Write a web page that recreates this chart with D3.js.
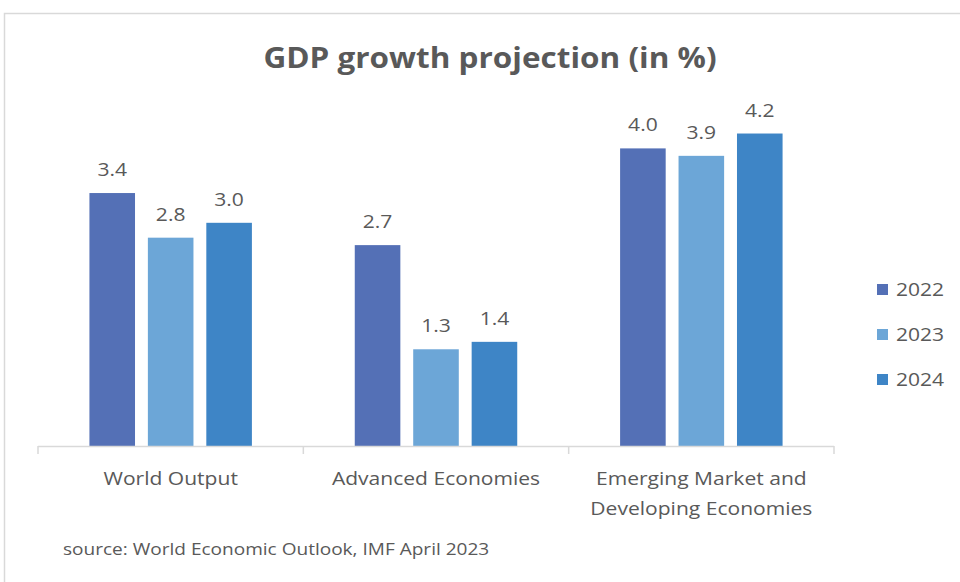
<!DOCTYPE html>
<html>
<head>
<meta charset="utf-8">
<script src="https://cdn.jsdelivr.net/npm/d3@7"></script>
<style>
  body { margin: 0; background: #fff; }
  svg text { font-family: "Open Sans", "Noto Sans", sans-serif; fill: #595959; }
</style>
</head>
<body>
<div id="chart"></div>
<script>
// data
var categories = [['World Output'], ['Advanced Economies'], ['Emerging Market and', 'Developing Economies']];
var years = ['2022', '2023', '2024'];
var values2022 = [3.4, 2.7, 4.0];
var values2023 = [2.8, 1.3, 3.9];
var values2024 = [3.0, 1.4, 4.2];
var colors = ['#5470b6', '#6ca6d7', '#3e85c6'];

var width = 960, height = 582;
var series = [values2022, values2023, values2024];
var stretch = 1.17; // the original text is rendered wider than Open Sans

function place(x, y, k){
    return 'translate(' + x + ',' + y + ') scale(' + (k || stretch) + ',1)';
}

var svg = d3.select('#chart').append('svg')
    .attr('width', width)
    .attr('height', height);

// chart frame (runs off the right and bottom edge)
svg.append('rect')
    .attr('x', 4.5).attr('y', 13.5)
    .attr('width', 1000).attr('height', 1000)
    .attr('fill', 'none')
    .attr('stroke', '#d9d9d9')
    .attr('stroke-width', 1.5);

svg.append('text')
    .attr('transform', place(490, 68, 1.125))
    .attr('text-anchor', 'middle')
    .style('font-size', '28px')
    .style('font-weight', 'bold')
    .text('GDP growth projection (in %)');

var plot = {left: 38, right: 834, top: 74, bottom: 446};

var x0 = d3.scaleBand()
    .domain(d3.range(categories.length))
    .range([plot.left, plot.right])
    .paddingInner(0).paddingOuter(0);

var x1 = d3.scaleBand()
    .domain(d3.range(years.length))
    .range([0, x0.bandwidth()])
    .paddingInner(0.22)
    .paddingOuter(0.88);

var y = d3.scaleLinear().domain([0, 5]).range([plot.bottom, plot.top]);

var groups = svg.selectAll('g.cat').data(categories)
    .enter()
        .append('g')
        .attr('class', 'cat')
        .attr('transform', function(d, i){return 'translate(' + x0(i) + ',0)'});

groups.each(function(c, ci){
    var g = d3.select(this);
    var rows = years.map(function(yr, si){return {s: si, v: series[si][ci]}});
    g.selectAll('rect').data(rows)
        .enter()
            .append('rect')
            .attr('x', function(d){return x1(d.s)})
            .attr('y', function(d){return y(d.v)})
            .attr('width', x1.bandwidth())
            .attr('height', function(d){return plot.bottom - y(d.v)})
            .attr('fill', function(d){return colors[d.s]});
    g.selectAll('text.val').data(rows)
        .enter()
            .append('text')
            .attr('class', 'val')
            .attr('transform', function(d){
                return place(x1(d.s) + x1.bandwidth() / 2, y(d.v) - 17)})
            .attr('text-anchor', 'middle')
            .style('font-size', '18px')
            .text(function(d){return d.v.toFixed(1)});
});

// category axis
var axis = svg.append('g');
axis.append('line')
    .attr('x1', plot.left).attr('x2', plot.right)
    .attr('y1', plot.bottom + 0.5).attr('y2', plot.bottom + 0.5)
    .attr('stroke', '#d9d9d9').attr('stroke-width', 1.5);
axis.selectAll('line.tick').data(d3.range(categories.length + 1))
    .enter()
        .append('line')
        .attr('class', 'tick')
        .attr('x1', function(i){return plot.left + i * x0.bandwidth()})
        .attr('x2', function(i){return plot.left + i * x0.bandwidth()})
        .attr('y1', plot.bottom).attr('y2', plot.bottom + 8)
        .attr('stroke', '#d9d9d9').attr('stroke-width', 1.5);

var labels = axis.selectAll('text').data(categories)
    .enter()
        .append('text')
        .attr('text-anchor', 'middle')
        .attr('transform', function(d, i){return place(x0(i) + x0.bandwidth() / 2, 485)})
        .style('font-size', '18px');
labels.selectAll('tspan').data(function(d){return d})
    .enter()
        .append('tspan')
        .attr('x', 0)
        .attr('dy', function(d, i){return i == 0 ? 0 : 30})
        .text(function(d){return d});

// legend
var legend = svg.selectAll('g.legend').data(years)
    .enter()
        .append('g')
        .attr('class', 'legend')
        .attr('transform', function(d, i){return 'translate(877,' + (284 + i * 45) + ')'});
legend.append('rect')
    .attr('width', 11).attr('height', 11)
    .attr('fill', function(d, i){return colors[i]});
legend.append('text')
    .attr('transform', place(19, 12))
    .style('font-size', '18px')
    .text(function(d){return d});

svg.append('text')
    .attr('transform', place(63, 555, 1.19))
    .style('font-size', '16px')
    .text('source: World Economic Outlook, IMF April 2023');
</script>
</body>
</html>
